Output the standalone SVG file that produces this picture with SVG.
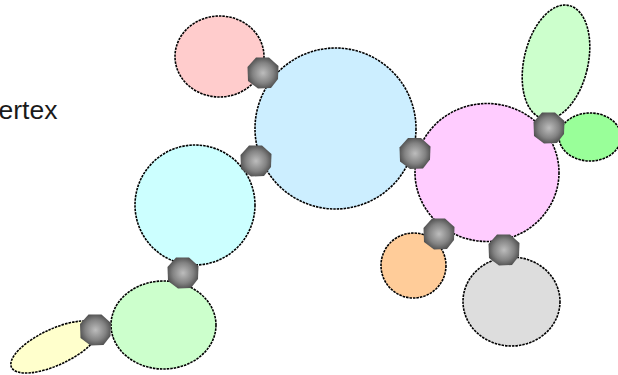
<svg xmlns="http://www.w3.org/2000/svg" xmlns:xlink="http://www.w3.org/1999/xlink" width="618" height="375" viewBox="0 0 618 375">
<defs>
<radialGradient id="vg" cx="0.5" cy="0.5" r="0.55">
<stop offset="0" stop-color="#bdbdbd"/>
<stop offset="0.6" stop-color="#838383"/>
<stop offset="1" stop-color="#4a4a4a"/>
</radialGradient>
<path id="oct" d="M-7,-15.5 L6,-15.5 L15.5,-7 L15,6 L8,15 L-5,15.5 L-15,8 L-15.5,-6 Z" fill="url(#vg)"/>
<style>
.b{stroke:#000;stroke-width:1.6;stroke-dasharray:2.5,1}
.t{font-family:"Liberation Sans",Arial,sans-serif;font-size:26.5px;fill:#1a1a1a}
</style>
</defs>
<rect width="618" height="375" fill="#fff"/>
<text class="t" x="-1.5" y="119">ertex</text>
<g id="nodes">
<g id="pink"><ellipse class="b" cx="219.5" cy="56.5" rx="44.5" ry="40.5" fill="#ffcccc"/></g>
<g id="blue"><circle class="b" cx="335.5" cy="128.5" r="80.5" fill="#cceeff"/></g>
<g id="cyan"><circle class="b" cx="195" cy="205" r="60" fill="#ccffff"/></g>
<g id="green"><ellipse class="b" cx="163.5" cy="325" rx="52.5" ry="44" fill="#ccffcc"/></g>
<g id="yellow"><ellipse class="b" cx="0" cy="0" rx="48" ry="18" transform="translate(55,347) rotate(-25)" fill="#ffffcc"/></g>
<g id="magenta"><ellipse class="b" cx="487" cy="172.5" rx="72" ry="69" fill="#ffccff"/></g>
<g id="tallgreen"><ellipse class="b" cx="0" cy="0" rx="32" ry="58" transform="translate(556,62) rotate(13)" fill="#ccffcc"/></g>
<g id="brightgreen"><ellipse class="b" cx="590" cy="137" rx="31" ry="24" fill="#99ff99"/></g>
<g id="orange"><circle class="b" cx="413.5" cy="265.5" r="32.5" fill="#ffcc99"/></g>
<g id="gray"><ellipse class="b" cx="511.5" cy="301.5" rx="48.5" ry="44.5" fill="#dddddd"/></g>
</g>
<g id="vertices">
<g id="v1"><use xlink:href="#oct" x="263" y="73"/></g>
<g id="v2"><use xlink:href="#oct" x="256" y="161"/></g>
<g id="v3"><use xlink:href="#oct" x="415" y="153.5"/></g>
<g id="v4"><use xlink:href="#oct" x="549" y="128"/></g>
<g id="v5"><use xlink:href="#oct" x="439" y="234"/></g>
<g id="v6"><use xlink:href="#oct" x="504" y="250"/></g>
<g id="v7"><use xlink:href="#oct" x="183" y="273"/></g>
<g id="v8"><use xlink:href="#oct" x="95.5" y="330"/></g>
</g>
<g id="connectors"></g>
</svg>
